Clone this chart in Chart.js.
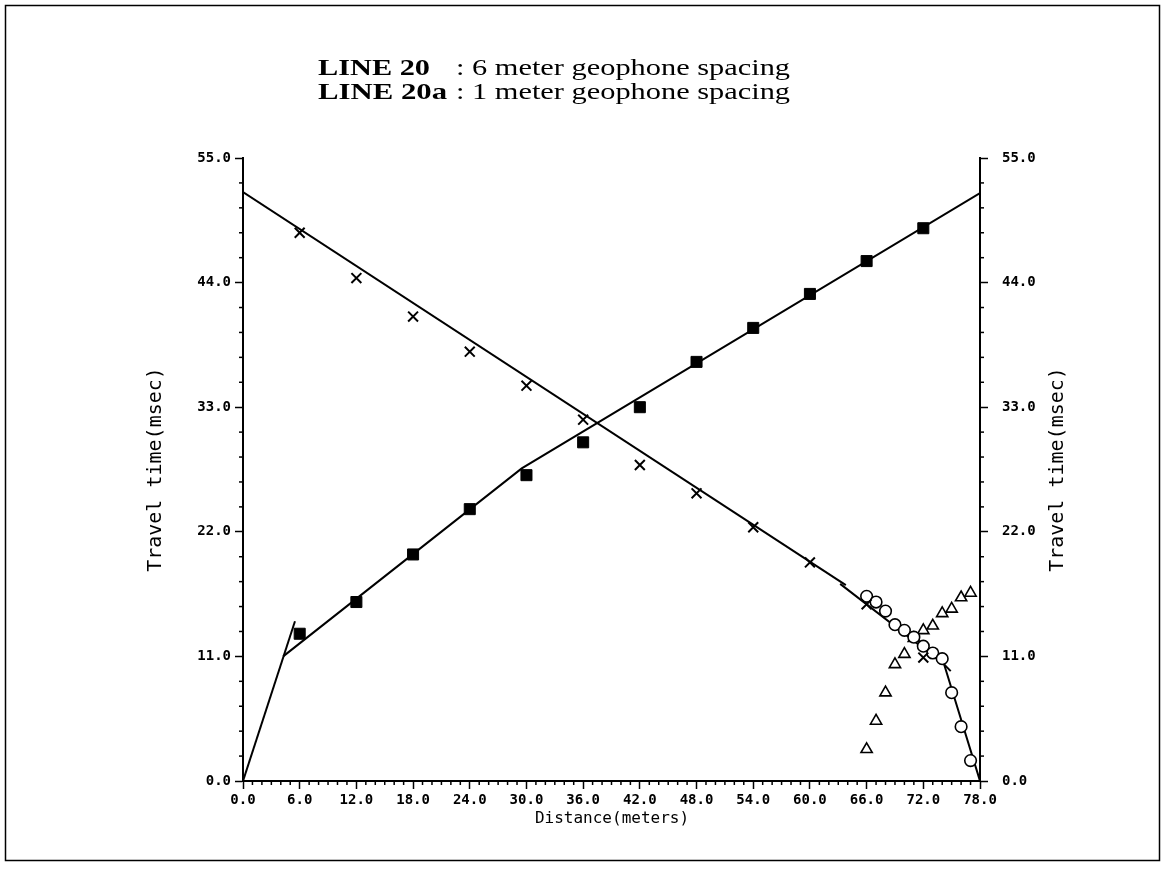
<!DOCTYPE html>
<html>
<head>
<meta charset="utf-8">
<script src="https://cdn.jsdelivr.net/npm/chart.js@4.4.1/dist/chart.umd.min.js"></script>
<style>
  html, body { margin: 0; padding: 0; background: #fff; }
  #wrap { position: relative; width: 1165px; height: 887px; }
  canvas { display: block; }
</style>
</head>
<body>
<div id="wrap"><canvas id="c" width="1165" height="887"></canvas></div>
<script>
// LINE 20 : 6 m geophone spacing (forward = squares, reverse = crosses)
const distance6 = [6, 12, 18, 24, 30, 36, 42, 48, 54, 60, 66, 72];
const forward6  = [13.0, 15.8, 20.0, 24.0, 27.0, 29.9, 33.0, 37.0, 40.0, 43.0, 45.9, 48.8];
const reverse6  = [48.4, 44.4, 41.0, 37.9, 34.9, 31.9, 27.9, 25.4, 22.4, 19.3, 15.6, 10.9];

// LINE 20a : 1 m geophone spacing (forward = triangles, reverse = circles)
const distance1 = [66, 67, 68, 69, 70, 71, 72, 73, 74, 75, 76, 77];
const forward1  = [2.8, 5.3, 7.8, 10.3, 11.2, 12.6, 13.3, 13.7, 14.8, 15.2, 16.2, 16.6];
const reverse1  = [16.3, 15.8, 15.0, 13.8, 13.3, 12.7, 11.9, 11.3, 10.8, 7.8, 4.8, 1.8];

// fitted travel-time branches
const directX   = [0, 5.5];
const directY   = [0, 14.1];
const fwdFitX   = [4.25, 29.5, 78];
const fwdFitY   = [11.0, 27.6, 51.9];
const revFitX   = [0, 63.8];
const revFitY   = [52.0, 17.3];
const rev1FitX  = [63.2, 74.2, 78];
const rev1FitY  = [17.4, 10.3, 0];
const rev1TailX = [74.2, 74.9];
const rev1TailY = [10.3, 9.7];

// axis ticks
const xMajorStep = 6, xMinorStep = 1, xMax = 78;
const yMajorStep = 11, yMinorStep = 2.2, yMax = 55;

const xy = (xs, ys) => xs.map((x, i) => ({ x: x, y: ys[i] }));
const near = (v, step) => Math.abs(v / step - Math.round(v / step)) < 1e-6;
const isMajorX = v => near(v, xMajorStep);
const isMajorY = v => near(v, yMajorStep);

const xTickValues = [];
for (let i = 0; i * xMinorStep <= xMax + 1e-9; i++) xTickValues.push(i * xMinorStep);
const yTickValues = [];
for (let i = 0; i * yMinorStep <= yMax + 1e-9; i++) yTickValues.push(Math.round(i * yMinorStep * 10) / 10);

const tickFont = { family: 'DejaVu Sans Mono', size: 14, weight: 'bold' };

function fitLine(xs, ys) {
  return {
    data: xy(xs, ys), showLine: true, borderColor: '#000', borderWidth: 2,
    pointRadius: 0, fill: false, tension: 0, order: 1
  };
}

const minorTicks = {
  id: 'minorTicks',
  afterDraw(chart) {
    const ctx = chart.ctx;
    ctx.save();
    ctx.strokeStyle = '#000';
    ctx.lineWidth = 1.5;
    const sx = chart.scales.x, sy = chart.scales.y, sy2 = chart.scales.y2;
    xTickValues.forEach(v => {
      if (isMajorX(v)) return;
      const p = sx.getPixelForValue(v);
      ctx.beginPath(); ctx.moveTo(p, sx.top); ctx.lineTo(p, sx.top + 4); ctx.stroke();
    });
    yTickValues.forEach(v => {
      if (isMajorY(v)) return;
      const p = sy.getPixelForValue(v);
      ctx.beginPath(); ctx.moveTo(sy.right, p); ctx.lineTo(sy.right - 4, p); ctx.stroke();
      const q = sy2.getPixelForValue(v);
      ctx.beginPath(); ctx.moveTo(sy2.left, q); ctx.lineTo(sy2.left + 4, q); ctx.stroke();
    });
    ctx.restore();
  }
};

// draws a string stretched horizontally to a given width
function fillStretched(ctx, text, x, y, width) {
  const w = ctx.measureText(text).width;
  ctx.save();
  ctx.translate(x, y);
  ctx.scale(width / w, 1);
  ctx.fillText(text, 0, 0);
  ctx.restore();
}

const texts = {
  id: 'texts',
  afterDraw(chart) {
    const ctx = chart.ctx;
    const area = chart.chartArea;
    ctx.save();
    ctx.fillStyle = '#000';
    ctx.strokeStyle = '#000';

    // frame
    ctx.lineWidth = 1.5;
    ctx.strokeRect(5.5, 5.5, 1154, 855);

    // heading, two lines with aligned colons
    const lines = [
      { bold: 'LINE 20', boldW: 112, rest: ': 6 meter geophone spacing', y: 69 },
      { bold: 'LINE 20a', boldW: 129, rest: ': 1 meter geophone spacing', y: 93 }
    ];
    ctx.textBaseline = 'middle';
    ctx.textAlign = 'left';
    lines.forEach(l => {
      ctx.font = 'bold 24px "Liberation Serif"';
      fillStretched(ctx, l.bold, 318, l.y, l.boldW);
      ctx.font = '24px "Liberation Serif"';
      fillStretched(ctx, l.rest, 456, l.y, 334);
    });

    // axis titles
    ctx.textAlign = 'center';
    ctx.font = '16px "DejaVu Sans Mono"';
    ctx.fillText('Distance(meters)', 612, 819);
    ctx.font = '20px "DejaVu Sans Mono"';
    const midY = (area.top + area.bottom) / 2;
    [156, 1058].forEach(x => {
      ctx.save();
      ctx.translate(x, midY);
      ctx.rotate(-Math.PI / 2);
      ctx.fillText('Travel time(msec)', 0, 0);
      ctx.restore();
    });
    ctx.restore();
  }
};

function yAxis(position, width, padding) {
  return {
    type: 'linear', position: position, min: 0, max: yMax,
    afterBuildTicks: s => { s.ticks = yTickValues.map(v => ({ value: v })); },
    afterFit: s => { s.width = width; },
    ticks: {
      autoSkip: false, padding: padding, color: '#000', font: tickFont,
      callback: v => isMajorY(v) ? v.toFixed(1) : ''
    },
    grid: {
      drawOnChartArea: false, drawTicks: true, tickLength: 8, tickWidth: 1.5,
      tickColor: c => (c.tick && isMajorY(c.tick.value)) ? '#000' : 'rgba(0,0,0,0)'
    },
    border: { display: true, color: '#000', width: 2 }
  };
}

new Chart(document.getElementById('c'), {
  type: 'scatter',
  data: {
    datasets: [
      fitLine(directX, directY),
      fitLine(fwdFitX, fwdFitY),
      fitLine(revFitX, revFitY),
      fitLine(rev1FitX, rev1FitY),
      fitLine(rev1TailX, rev1TailY),
      {
        data: xy(distance6, forward6), pointStyle: 'rect', pointRadius: 7.8,
        backgroundColor: '#000', borderColor: '#000', borderWidth: 1, order: 0
      },
      {
        data: xy(distance6, reverse6), pointStyle: 'crossRot', pointRadius: 7,
        backgroundColor: '#000', borderColor: '#000', borderWidth: 2, order: 0
      },
      {
        data: xy(distance1, reverse1), pointStyle: 'circle', pointRadius: 5.8,
        backgroundColor: '#fff', borderColor: '#000', borderWidth: 1.6, order: 0
      },
      {
        data: xy(distance1, forward1), pointStyle: 'triangle', pointRadius: 6.5,
        backgroundColor: '#fff', borderColor: '#000', borderWidth: 1.6, order: 0
      }
    ]
  },
  options: {
    responsive: false,
    animation: false,
    layout: { padding: { top: 158, left: 0, right: 0, bottom: 0 } },
    plugins: { legend: { display: false }, tooltip: { enabled: false }, title: { display: false } },
    scales: {
      x: {
        type: 'linear', position: 'bottom', min: 0, max: xMax,
        afterBuildTicks: s => { s.ticks = xTickValues.map(v => ({ value: v })); },
        afterFit: s => { s.height = 106; },
        ticks: {
          autoSkip: false, maxRotation: 0, padding: 3, color: '#000', font: tickFont,
          callback: v => isMajorX(v) ? v.toFixed(1) : ''
        },
        grid: {
          drawOnChartArea: false, drawTicks: true, tickLength: 8, tickWidth: 1.5,
          tickColor: c => (c.tick && isMajorX(c.tick.value)) ? '#000' : 'rgba(0,0,0,0)'
        },
        border: { display: true, color: '#000', width: 2 }
      },
      y: yAxis('left', 243, 4),
      y2: yAxis('right', 185, 14)
    }
  },
  plugins: [minorTicks, texts]
});
</script>
</body>
</html>
